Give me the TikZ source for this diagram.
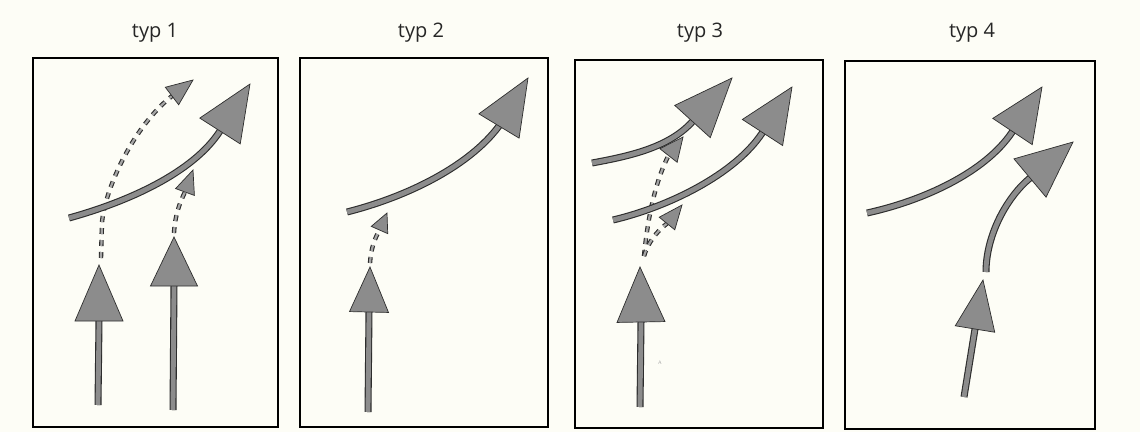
\documentclass[tikz,border=0pt]{standalone}
\usepackage{fontspec}
\setmainfont{Open Sans}
\usetikzlibrary{calc}
\definecolor{bgc}{RGB}{253,253,246}
\definecolor{dk}{RGB}{45,45,45}
\definecolor{gfill}{RGB}{140,140,140}
\definecolor{dfill}{RGB}{165,165,165}
\newcommand{\ahead}[3]{\filldraw[headst] ($(#1)!#3!90:(#2)$) -- (#2) -- ($(#1)!#3!-90:(#2)$) -- cycle;}
\tikzset{
  frame/.style={draw=black, line width=1.4},
  shaft/.style={draw=gfill, line width=4.8, line cap=butt, preaction={draw=dk, line width=7, line cap=butt}},
  dashln/.style={draw=dfill, line width=2.2, dash pattern=on 6 off 6, preaction={draw=dk, line width=4.4, dash pattern=on 6 off 6}},
  headst/.style={fill=gfill, draw=dk, line width=0.7, line join=miter},
  lbl/.style={font=\fontsize{20}{22}\selectfont, text=black!85, inner sep=0pt}
}
\begin{document}
\begin{tikzpicture}[x=1pt, y=-1pt]
\useasboundingbox (0,0) rectangle (1140,432);
\fill[bgc] (0,0) rectangle (1140,432);
% frames
\draw[frame] (33,58) rectangle (278,427);
\draw[frame] (300,58) rectangle (548,427);
\draw[frame] (575,60) rectangle (823,428);
\draw[frame] (845,61) rectangle (1095,429);
% labels
\node[lbl] (l1) at (155,33) {typ 1};
\node[lbl] (l2) at (421,33) {typ 2};
\node[lbl] (l3) at (700,33) {typ 3};
\node[lbl] (l4) at (972,33) {typ 4};

% ---------- typ 1 ----------
\coordinate (a1t) at (98,405);  \coordinate (a1b) at (99,321); \coordinate (a1h) at (99,265);
\coordinate (b1t) at (173,410); \coordinate (b1b) at (174,286); \coordinate (b1h) at (174,237);
\coordinate (c1t) at (69,218);  \coordinate (c1b) at (220,131); \coordinate (c1h) at (250,84);
\coordinate (d1s) at (101,258); \coordinate (d1m) at (102,222); \coordinate (d1b) at (172,96); \coordinate (d1h) at (193,80);
\coordinate (e1s) at (174,233); \coordinate (e1b) at (185,192); \coordinate (e1h) at (193,170);
\draw[dashln] (d1s) -- (d1m) .. controls (106,185) and (135,125) .. (d1b);
\draw[dashln] (e1s) .. controls (175,215) and (180,202) .. (e1b);
\draw[shaft] (a1t) -- (a1b);
\draw[shaft] (b1t) -- (b1b);
\draw[shaft] (c1t) .. controls (127,202) and (193,173) .. (c1b);
\ahead{a1b}{a1h}{24pt}
\ahead{b1b}{b1h}{23.5pt}
\ahead{c1b}{c1h}{24pt}
\ahead{d1b}{d1h}{11pt}
\ahead{e1b}{e1h}{10pt}

% ---------- typ 2 ----------
\coordinate (a2t) at (368,412); \coordinate (a2b) at (369,312); \coordinate (a2h) at (370,267);
\coordinate (c2t) at (347,212); \coordinate (c2b) at (499,126); \coordinate (c2h) at (528,78);
\coordinate (d2s) at (370,263); \coordinate (d2b) at (379.5,230); \coordinate (d2h) at (387,213);
\draw[dashln] (d2s) .. controls (371,248) and (375,238) .. (d2b);
\draw[shaft] (a2t) -- (a2b);
\draw[shaft] (c2t) .. controls (410,196) and (470,165) .. (c2b);
\ahead{a2b}{a2h}{19.5pt}
\ahead{c2b}{c2h}{23.5pt}
\ahead{d2b}{d2h}{9pt}

% ---------- typ 3 ----------
\coordinate (a3t) at (640,407); \coordinate (a3b) at (641,322); \coordinate (a3h) at (640,267);
\coordinate (u3t) at (592,163); \coordinate (u3b) at (692.5,121.5); \coordinate (u3h) at (732,78);
\coordinate (c3t) at (613,220); \coordinate (c3b) at (762.5,132.5); \coordinate (c3h) at (792,87);
\coordinate (d3s) at (644,256);
\coordinate (d3b) at (668.5,155.5); \coordinate (d3h) at (683,137);
\coordinate (e3b) at (667,223.5); \coordinate (e3h) at (682,205);
\draw[dashln] (d3s) .. controls (648,215) and (656,180) .. (d3b);
\draw[dashln] (d3s) .. controls (648,243) and (656,232) .. (e3b);
\draw[shaft] (a3t) -- (a3b);
\draw[shaft] (u3t) .. controls (630,156) and (669,147.5) .. (u3b);
\draw[shaft] (c3t) .. controls (668,207) and (735,174.5) .. (c3b);
\ahead{a3b}{a3h}{24pt}
\ahead{u3b}{u3h}{24pt}
\ahead{c3b}{c3h}{24pt}
\ahead{d3b}{d3h}{11pt}
\ahead{e3b}{e3h}{10pt}
\node[font=\sffamily\fontsize{5}{5}\selectfont, text=black!35, inner sep=0pt] (art) at (660,363) {A};

% ---------- typ 4 ----------
\coordinate (a4t) at (964,397); \coordinate (a4b) at (975,329); \coordinate (a4h) at (983,280);
\coordinate (f4t) at (986,272); \coordinate (f4b) at (1030,178); \coordinate (f4h) at (1073,142);
\coordinate (c4t) at (867,213); \coordinate (c4b) at (1012.5,131.5); \coordinate (c4h) at (1042,87);
\draw[shaft] (a4t) -- (a4b);
\draw[shaft] (f4t) .. controls (986,235) and (1007,197) .. (f4b);
\draw[shaft] (c4t) .. controls (922,201) and (985,173) .. (c4b);
\ahead{a4b}{a4h}{20pt}
\ahead{f4b}{f4h}{25pt}
\ahead{c4b}{c4h}{23.7pt}
\end{tikzpicture}
\end{document}
